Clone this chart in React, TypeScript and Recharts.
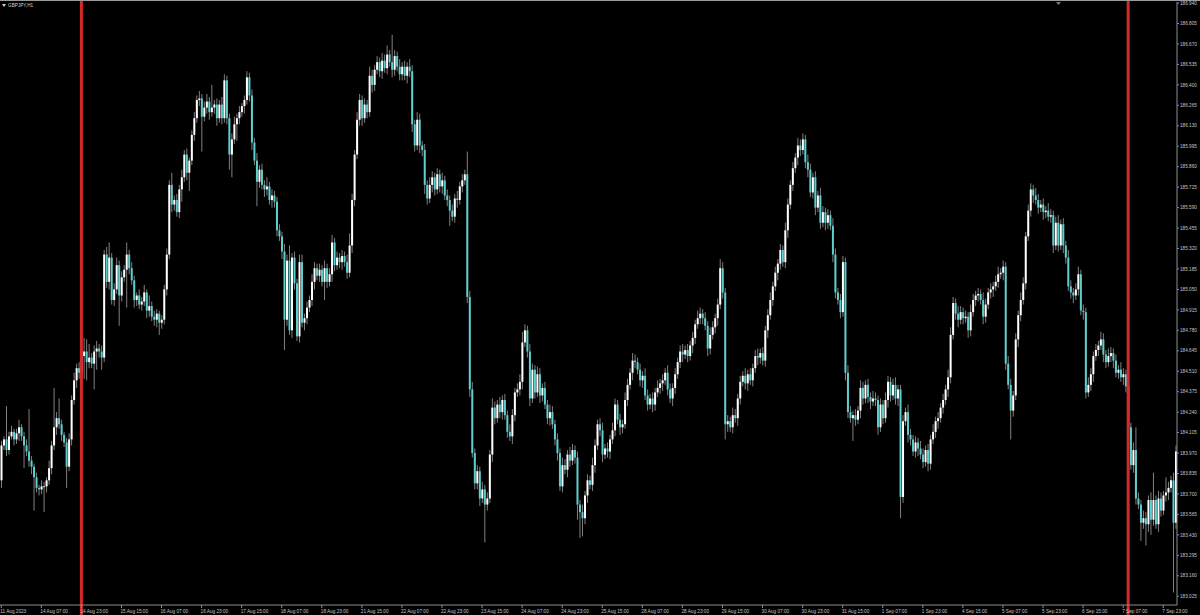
import { ComposedChart, Bar, XAxis, YAxis, ReferenceLine } from "recharts";

// GBPJPY H1 candles, 11 Aug 15:00 .. 8 Sep 05:00 (2023)
const FIRST_OPEN = 183.79;

const CLOSES = [
  184.02, 184.06, 183.99, 184.08, 184.11, 184.06, 184.1, 184.14, 184.08, 184.02,
  183.98, 183.92, 183.88, 183.81, 183.74, 183.73, 183.75, 183.75, 183.79, 183.87,
  184.02, 184.14, 184.2, 184.16, 184.09, 184.04, 183.88, 184.06, 184.32, 184.45,
  184.53, 184.5, 184.61, 184.64, 184.57, 184.6, 184.56, 184.64, 184.66, 184.64,
  184.6, 185.28, 185.1, 185.26, 184.98, 185.05, 185.21, 185.01, 185.13, 185.18,
  185.28, 185.19, 185.11, 184.98, 185.01, 184.95, 184.97, 185.03, 184.91, 184.94,
  184.87, 184.85, 184.89, 184.83, 184.85, 185.05, 185.28, 185.74, 185.61, 185.64,
  185.56, 185.71, 185.79, 185.94, 185.82, 185.9, 186.07, 186.18, 186.3, 186.31,
  186.19, 186.25, 186.29, 186.22, 186.25, 186.27, 186.18, 186.27, 186.18, 186.43,
  186.18, 185.94, 186.04, 186.14, 186.18, 186.22, 186.26, 186.3, 186.45, 186.33,
  186.02, 185.9, 185.76, 185.84, 185.74, 185.71, 185.73, 185.64, 185.67, 185.63,
  185.44, 185.4, 185.3, 184.85, 185.24, 184.78, 185.26, 185.09, 184.74, 185.23,
  184.83, 184.86, 184.93, 184.98, 185.1, 185.19, 185.14, 185.18, 185.1, 185.19,
  185.1, 185.15, 185.36, 185.21, 185.26, 185.23, 185.27, 185.23, 185.16, 185.34,
  185.64, 185.94, 186.17, 186.3, 186.18, 186.27, 186.22, 186.46, 186.4, 186.5,
  186.55, 186.49, 186.56, 186.51, 186.6, 186.55, 186.5, 186.59, 186.52, 186.47,
  186.52, 186.46, 186.52, 186.49, 186.14, 186.0, 186.17, 186.0, 185.97, 185.74,
  185.65, 185.74, 185.79, 185.71, 185.81, 185.73, 185.77, 185.67, 185.64, 185.57,
  185.53, 185.65, 185.64, 185.73, 185.77, 185.81, 185.0, 184.39, 183.97, 183.77,
  183.85, 183.67, 183.73, 183.63, 183.67, 183.96, 184.27, 184.2, 184.29, 184.24,
  184.32, 184.22, 184.11, 184.08, 184.22, 184.37, 184.39, 184.44, 184.7, 184.78,
  184.64, 184.33, 184.52, 184.37, 184.49, 184.35, 184.4, 184.29, 184.2, 184.24,
  184.16, 184.06, 183.97, 183.75, 183.89, 183.86, 183.96, 183.92, 183.99, 183.94,
  183.63, 183.58, 183.54, 183.69, 183.79, 183.76, 183.89, 184.02, 184.16, 184.12,
  183.96, 184.0, 183.98, 184.06, 184.12, 184.29, 184.19, 184.14, 184.16, 184.32,
  184.42, 184.5, 184.58, 184.57, 184.52, 184.45, 184.48, 184.35, 184.29, 184.33,
  184.29, 184.37, 184.4, 184.43, 184.45, 184.5, 184.39, 184.33, 184.4, 184.49,
  184.57, 184.64, 184.62, 184.65, 184.61, 184.68, 184.73, 184.82, 184.86, 184.89,
  184.86, 184.81, 184.66, 184.75, 184.8, 184.86, 184.95, 185.19, 185.03, 184.16,
  184.18, 184.14, 184.22, 184.2, 184.33, 184.44, 184.48, 184.43, 184.49, 184.45,
  184.53, 184.61, 184.6, 184.63, 184.58, 184.78, 184.88, 184.98, 185.07, 185.16,
  185.22, 185.31, 185.23, 185.44, 185.61, 185.74, 185.85, 185.92, 186.0, 185.97,
  186.04, 185.89, 185.84, 185.69, 185.79, 185.59, 185.67, 185.49, 185.56, 185.49,
  185.54, 185.47, 185.28, 185.03, 184.98, 184.9, 185.23, 184.5, 184.24, 184.2,
  184.22, 184.19, 184.25, 184.4, 184.33, 184.42, 184.34, 184.31, 184.33, 184.32,
  184.14, 184.29, 184.2, 184.32, 184.44, 184.35, 184.42, 184.33, 184.39, 183.68,
  184.18, 184.24, 184.09, 184.06, 183.98, 184.04, 184.0, 183.96, 183.91, 183.99,
  183.9, 184.06, 184.11, 184.18, 184.2, 184.27, 184.32, 184.39, 184.47, 184.75,
  184.96, 184.89, 184.85, 184.9, 184.86, 184.87, 184.78, 184.9, 184.98, 185.01,
  185.02, 184.98, 184.87, 184.95, 185.03, 185.05, 185.07, 185.1, 185.15, 185.16,
  185.2, 184.56, 184.42, 184.25, 184.35, 184.72, 184.88, 184.98, 185.09, 185.4,
  185.57, 185.71, 185.67, 185.64, 185.59, 185.61, 185.56, 185.57, 185.53, 185.54,
  185.34, 185.49, 185.34, 185.48, 185.34, 185.26, 185.07, 185.03, 185.01, 185.05,
  185.15, 184.91, 184.9, 184.37, 184.42, 184.49, 184.61, 184.65, 184.68, 184.72,
  184.62, 184.57, 184.61, 184.63, 184.58, 184.5, 184.52, 184.47, 184.49, 184.41,
  184.14, 183.89, 183.99, 183.67, 183.63, 183.51, 183.54, 183.5, 183.66, 183.53,
  183.66, 183.5, 183.67, 183.59, 183.69, 183.71, 183.74, 183.79, 183.51, 183.98,
];

// upper shadow above the body top, in yen
const WICK_HI = [
  0.03, 0.02, 0.22, 0.03, 0.04, 0.02, 0.03, 0.05, 0.02, 0.03,
  0.04, 0.28, 0.03, 0.02, 0.03, 0.02, 0.04, 0.03, 0.02, 0.05,
  0.03, 0.26, 0.04, 0.13, 0.03, 0.02, 0.03, 0.04, 0.03, 0.05,
  0.03, 0.04, 0.05, 0.09, 0.08, 0.09, 0.03, 0.04, 0.05, 0.03,
  0.04, 0.03, 0.05, 0.1, 0.03, 0.04, 0.05, 0.03, 0.04, 0.03,
  0.08, 0.03, 0.04, 0.03, 0.02, 0.04, 0.03, 0.05, 0.02, 0.07,
  0.03, 0.04, 0.03, 0.02, 0.03, 0.03, 0.04, 0.03, 0.08, 0.03,
  0.04, 0.03, 0.05, 0.03, 0.04, 0.02, 0.03, 0.04, 0.03, 0.05,
  0.03, 0.04, 0.05, 0.03, 0.15, 0.03, 0.04, 0.03, 0.05, 0.04,
  0.03, 0.03, 0.04, 0.05, 0.03, 0.04, 0.02, 0.03, 0.04, 0.03,
  0.04, 0.03, 0.05, 0.03, 0.04, 0.03, 0.06, 0.03, 0.04, 0.03,
  0.03, 0.04, 0.03, 0.05, 0.04, 0.1, 0.03, 0.04, 0.03, 0.05,
  0.05, 0.03, 0.04, 0.03, 0.05, 0.04, 0.03, 0.04, 0.03, 0.05,
  0.03, 0.04, 0.05, 0.03, 0.04, 0.03, 0.04, 0.03, 0.05, 0.08,
  0.04, 0.03, 0.05, 0.04, 0.03, 0.04, 0.03, 0.06, 0.04, 0.03,
  0.04, 0.03, 0.05, 0.04, 0.06, 0.03, 0.18, 0.04, 0.03, 0.05,
  0.03, 0.04, 0.03, 0.05, 0.04, 0.03, 0.05, 0.04, 0.03, 0.04,
  0.03, 0.05, 0.04, 0.03, 0.04, 0.03, 0.05, 0.03, 0.04, 0.03,
  0.04, 0.03, 0.05, 0.03, 0.04, 0.03, 0.15, 0.04, 0.05, 0.03,
  0.04, 0.03, 0.05, 0.03, 0.04, 0.03, 0.06, 0.04, 0.03, 0.05,
  0.03, 0.04, 0.03, 0.05, 0.04, 0.03, 0.04, 0.05, 0.07, 0.04,
  0.03, 0.05, 0.04, 0.03, 0.05, 0.04, 0.03, 0.04, 0.03, 0.05,
  0.04, 0.03, 0.04, 0.03, 0.05, 0.04, 0.03, 0.05, 0.04, 0.03,
  0.04, 0.03, 0.05, 0.03, 0.04, 0.03, 0.05, 0.04, 0.03, 0.04,
  0.05, 0.03, 0.04, 0.03, 0.05, 0.04, 0.03, 0.04, 0.03, 0.05,
  0.04, 0.03, 0.05, 0.04, 0.03, 0.04, 0.03, 0.05, 0.04, 0.03,
  0.04, 0.03, 0.05, 0.03, 0.04, 0.03, 0.05, 0.04, 0.03, 0.04,
  0.03, 0.04, 0.05, 0.03, 0.04, 0.03, 0.04, 0.03, 0.05, 0.04,
  0.03, 0.04, 0.03, 0.05, 0.04, 0.03, 0.04, 0.06, 0.04, 0.03,
  0.04, 0.03, 0.05, 0.04, 0.03, 0.04, 0.03, 0.05, 0.03, 0.04,
  0.03, 0.04, 0.05, 0.03, 0.04, 0.03, 0.04, 0.05, 0.03, 0.04,
  0.03, 0.04, 0.03, 0.05, 0.04, 0.03, 0.04, 0.03, 0.05, 0.04,
  0.04, 0.03, 0.05, 0.04, 0.03, 0.04, 0.03, 0.05, 0.04, 0.03,
  0.04, 0.03, 0.05, 0.04, 0.03, 0.04, 0.04, 0.03, 0.05, 0.04,
  0.03, 0.04, 0.03, 0.05, 0.04, 0.03, 0.04, 0.03, 0.05, 0.04,
  0.03, 0.04, 0.03, 0.05, 0.04, 0.03, 0.04, 0.05, 0.03, 0.03,
  0.04, 0.03, 0.05, 0.04, 0.03, 0.04, 0.03, 0.05, 0.04, 0.03,
  0.04, 0.03, 0.05, 0.03, 0.04, 0.03, 0.04, 0.03, 0.05, 0.05,
  0.04, 0.03, 0.05, 0.04, 0.03, 0.04, 0.03, 0.05, 0.04, 0.03,
  0.04, 0.03, 0.05, 0.04, 0.03, 0.04, 0.03, 0.04, 0.05, 0.03,
  0.04, 0.03, 0.05, 0.04, 0.03, 0.04, 0.03, 0.05, 0.04, 0.03,
  0.04, 0.04, 0.03, 0.05, 0.04, 0.03, 0.04, 0.03, 0.05, 0.04,
  0.03, 0.04, 0.05, 0.03, 0.04, 0.03, 0.05, 0.04, 0.03, 0.04,
  0.05, 0.03, 0.04, 0.03, 0.05, 0.04, 0.03, 0.04, 0.03, 0.05,
  0.04, 0.03, 0.05, 0.04, 0.03, 0.04, 0.03, 0.05, 0.04, 0.03,
  0.04, 0.03, 0.05, 0.15, 0.04, 0.03, 0.05, 0.04, 0.03, 0.05,
  0.18, 0.03, 0.05, 0.04, 0.03, 0.1, 0.04, 0.03, 0.05, 0.04,
];

// lower shadow below the body bottom, in yen
const WICK_LO = [
  0.05, 0.03, 0.04, 0.03, 0.02, 0.04, 0.03, 0.05, 0.03, 0.15,
  0.03, 0.04, 0.05, 0.22, 0.03, 0.04, 0.03, 0.17, 0.04, 0.03,
  0.04, 0.03, 0.05, 0.03, 0.04, 0.03, 0.14, 0.03, 0.04, 0.03,
  0.05, 0.04, 0.03, 0.15, 0.12, 0.04, 0.03, 0.17, 0.12, 0.04,
  0.08, 0.03, 0.04, 0.05, 0.03, 0.04, 0.03, 0.2, 0.04, 0.03,
  0.25, 0.04, 0.03, 0.05, 0.04, 0.03, 0.04, 0.03, 0.05, 0.04,
  0.03, 0.04, 0.05, 0.08, 0.04, 0.03, 0.04, 0.03, 0.05, 0.04,
  0.03, 0.04, 0.08, 0.03, 0.05, 0.12, 0.03, 0.04, 0.03, 0.04,
  0.23, 0.03, 0.04, 0.05, 0.03, 0.04, 0.05, 0.03, 0.04, 0.03,
  0.04, 0.1, 0.15, 0.03, 0.11, 0.04, 0.03, 0.05, 0.03, 0.04,
  0.05, 0.03, 0.16, 0.04, 0.03, 0.05, 0.04, 0.03, 0.05, 0.04,
  0.04, 0.03, 0.05, 0.2, 0.04, 0.03, 0.05, 0.04, 0.03, 0.04,
  0.03, 0.05, 0.04, 0.03, 0.04, 0.05, 0.03, 0.04, 0.03, 0.12,
  0.04, 0.03, 0.05, 0.04, 0.03, 0.04, 0.05, 0.03, 0.04, 0.03,
  0.05, 0.04, 0.03, 0.04, 0.05, 0.03, 0.04, 0.03, 0.05, 0.04,
  0.03, 0.04, 0.05, 0.03, 0.04, 0.03, 0.05, 0.04, 0.03, 0.04,
  0.04, 0.03, 0.05, 0.04, 0.05, 0.04, 0.03, 0.05, 0.04, 0.06,
  0.04, 0.03, 0.05, 0.04, 0.03, 0.04, 0.05, 0.03, 0.04, 0.1,
  0.03, 0.04, 0.05, 0.03, 0.04, 0.03, 0.04, 0.05, 0.03, 0.04,
  0.04, 0.05, 0.03, 0.25, 0.04, 0.03, 0.05, 0.04, 0.03, 0.04,
  0.05, 0.03, 0.04, 0.03, 0.05, 0.04, 0.03, 0.04, 0.05, 0.03,
  0.04, 0.05, 0.03, 0.04, 0.03, 0.05, 0.04, 0.03, 0.04, 0.05,
  0.03, 0.04, 0.05, 0.03, 0.04, 0.03, 0.05, 0.04, 0.03, 0.04,
  0.1, 0.17, 0.12, 0.04, 0.05, 0.03, 0.04, 0.05, 0.03, 0.04,
  0.05, 0.03, 0.04, 0.05, 0.03, 0.04, 0.03, 0.05, 0.04, 0.03,
  0.04, 0.03, 0.05, 0.04, 0.03, 0.04, 0.05, 0.03, 0.04, 0.03,
  0.05, 0.04, 0.03, 0.04, 0.05, 0.03, 0.04, 0.03, 0.05, 0.04,
  0.03, 0.04, 0.05, 0.03, 0.04, 0.03, 0.05, 0.04, 0.03, 0.04,
  0.04, 0.03, 0.05, 0.04, 0.03, 0.04, 0.05, 0.03, 0.04, 0.1,
  0.05, 0.03, 0.04, 0.03, 0.05, 0.04, 0.03, 0.04, 0.05, 0.03,
  0.04, 0.03, 0.05, 0.04, 0.03, 0.04, 0.05, 0.03, 0.04, 0.03,
  0.05, 0.04, 0.03, 0.04, 0.05, 0.03, 0.04, 0.03, 0.05, 0.04,
  0.03, 0.04, 0.05, 0.03, 0.04, 0.05, 0.03, 0.04, 0.03, 0.05,
  0.04, 0.03, 0.05, 0.04, 0.03, 0.04, 0.03, 0.05, 0.04, 0.03,
  0.15, 0.04, 0.03, 0.05, 0.04, 0.03, 0.04, 0.05, 0.03, 0.04,
  0.05, 0.03, 0.04, 0.03, 0.05, 0.04, 0.03, 0.04, 0.05, 0.14,
  0.04, 0.03, 0.05, 0.04, 0.03, 0.04, 0.05, 0.03, 0.04, 0.03,
  0.05, 0.04, 0.03, 0.04, 0.05, 0.03, 0.04, 0.03, 0.05, 0.04,
  0.03, 0.04, 0.05, 0.03, 0.04, 0.03, 0.05, 0.04, 0.03, 0.04,
  0.04, 0.03, 0.05, 0.04, 0.03, 0.04, 0.05, 0.03, 0.04, 0.03,
  0.05, 0.04, 0.03, 0.19, 0.04, 0.03, 0.05, 0.04, 0.03, 0.04,
  0.03, 0.04, 0.05, 0.03, 0.04, 0.03, 0.05, 0.04, 0.03, 0.04,
  0.05, 0.03, 0.04, 0.03, 0.05, 0.04, 0.03, 0.04, 0.05, 0.03,
  0.04, 0.03, 0.05, 0.04, 0.03, 0.04, 0.05, 0.03, 0.04, 0.03,
  0.05, 0.04, 0.03, 0.04, 0.05, 0.03, 0.04, 0.03, 0.05, 0.04,
  0.04, 0.03, 0.05, 0.04, 0.03, 0.12, 0.04, 0.14, 0.05, 0.1,
  0.04, 0.03, 0.05, 0.04, 0.03, 0.04, 0.05, 0.03, 0.46, 0.04,
];

const TIME_LABELS = [
  "11 Aug 2023", "14 Aug 07:00", "14 Aug 23:00", "15 Aug 15:00", "16 Aug 07:00",
  "16 Aug 23:00", "17 Aug 15:00", "18 Aug 07:00", "18 Aug 23:00", "21 Aug 15:00",
  "22 Aug 07:00", "22 Aug 23:00", "23 Aug 15:00", "24 Aug 07:00", "24 Aug 23:00",
  "25 Aug 15:00", "28 Aug 07:00", "28 Aug 23:00", "29 Aug 15:00", "30 Aug 07:00",
  "30 Aug 23:00", "31 Aug 15:00", "1 Sep 07:00", "1 Sep 23:00", "4 Sep 15:00",
  "5 Sep 07:00", "5 Sep 23:00", "6 Sep 15:00", "7 Sep 07:00", "7 Sep 23:00",
];
const BARS_PER_LABEL = 16;
const TICK_BARS = TIME_LABELS.map((_, k) => k * BARS_PER_LABEL);

const PRICE_TICKS = [
  183.025, 183.16, 183.295, 183.43, 183.565, 183.7, 183.835, 183.97, 184.105, 184.24,
  184.375, 184.51, 184.645, 184.78, 184.915, 185.05, 185.185, 185.32, 185.455, 185.59,
  185.725, 185.86, 185.995, 186.13, 186.265, 186.4, 186.535, 186.67, 186.805, 186.94,
];

// bars carrying the red vertical lines
const MARKED_BARS = [32, 450];

const candles = CLOSES.map((close, i) => {
  const open = i === 0 ? FIRST_OPEN : CLOSES[i - 1];
  const high = Math.max(open, close) + WICK_HI[i];
  const low = Math.min(open, close) - WICK_LO[i];
  return { i, open, close, high, low, range: [low, high] };
});

const FONT = "'Liberation Sans', Arial, sans-serif";
const TEXT = "#c4c4c4";
const FRAME = "#8c8c8c";

function Candle(props: any) {
  const { x, y, width, height, payload } = props;
  if (payload == null) return null;
  const top = Math.min(y, y + height);
  const h = Math.abs(height);
  const { open, close, high, low } = payload;
  const k = h / (high - low);
  const cx = x + width / 2;
  const bodyTop = top + (high - Math.max(open, close)) * k;
  const bodyH = Math.max(Math.abs(open - close) * k, 0.8);
  const up = close >= open;
  return (
    <g>
      <line x1={cx} x2={cx} y1={top} y2={top + h} stroke="#808080" strokeWidth={1} />
      <rect x={cx - 1} y={bodyTop} width={2} height={bodyH} fill={up ? "#ffffff" : "#5ccfcf"} />
    </g>
  );
}

function TimeTick(props: any) {
  const { x, y, payload } = props;
  const label = TIME_LABELS[TICK_BARS.indexOf(payload.value)];
  return (
    <text x={x - 1} y={y + 3} fill={TEXT} fontSize={4.7} fontFamily={FONT}>
      {label}
    </text>
  );
}

export default function App() {
  return (
    <div style={{ position: "absolute", left: 0, top: 0, width: 1200, height: 615, background: "#000" }}>
      <ComposedChart
        width={1200}
        height={615}
        data={candles}
        margin={{ top: 2, right: 0, bottom: 0, left: 0 }}
        barCategoryGap={0}
      >
        <XAxis
          dataKey="i"
          type="category"
          ticks={TICK_BARS}
          interval={0}
          height={10}
          axisLine={{ stroke: FRAME }}
          tickLine={{ stroke: FRAME }}
          tickSize={3}
          tick={<TimeTick />}
        />
        <YAxis
          orientation="right"
          type="number"
          width={23}
          domain={[182.967, 186.947]}
          allowDataOverflow
          ticks={PRICE_TICKS}
          interval={0}
          axisLine={{ stroke: FRAME }}
          tickLine={{ stroke: FRAME }}
          tickSize={2}
          tickMargin={1}
          tick={{ fill: TEXT, fontSize: 4.7, fontFamily: FONT }}
          tickFormatter={(v: number) => v.toFixed(3)}
        />
        <Bar dataKey="range" shape={(p: any) => <Candle {...p} />} isAnimationActive={false} />
        {MARKED_BARS.map((b) => (
          <ReferenceLine
            key={b}
            segment={[
              { x: b, y: 186.96 },
              { x: b, y: 182.9 },
            ]}
            ifOverflow="visible"
            stroke="#d42a2a"
            strokeWidth={3}
          />
        ))}
      </ComposedChart>
      <svg
        width={1200}
        height={615}
        style={{ position: "absolute", left: 0, top: 0, pointerEvents: "none" }}
      >
        <line x1={0} x2={1200} y1={0.5} y2={0.5} stroke="#9a9a9a" strokeWidth={1} />
        <polygon points="2,4 6,4 4,7" fill="#d0d0d0" />
        <text x={8} y={7} fill="#d0d0d0" fontSize={4.7} fontFamily={FONT}>
          GBPJPY,H1
        </text>
        <polygon points="1056,2 1061,2 1058.5,5" fill="#7a7a7a" />
      </svg>
    </div>
  );
}
